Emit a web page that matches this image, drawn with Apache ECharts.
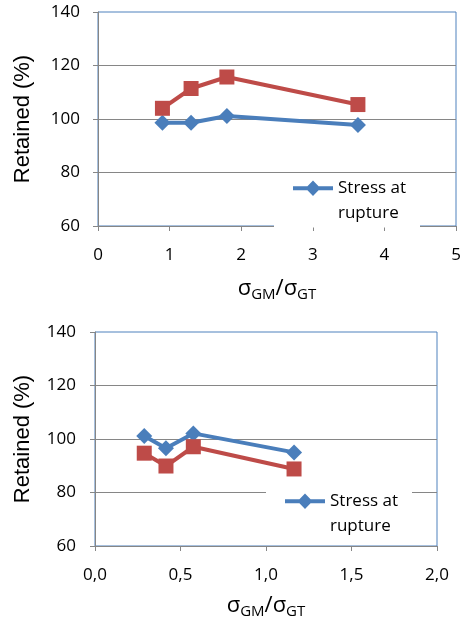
<!DOCTYPE html>
<html>
<head>
<meta charset="utf-8">
<script src="https://cdn.jsdelivr.net/npm/echarts@6/dist/echarts.min.js"></script>
<style>
  html, body { margin: 0; padding: 0; background: #fff; }
  #chart { width: 464px; height: 623px; }
</style>
</head>
<body>
<div id="chart"></div>
<script>
// Upper panel: ratio sigma_GM / sigma_GT against retained property (%)
const ratioTop = [0.9, 1.3, 1.8, 3.63];
const stressTop = [98.6, 98.6, 101.1, 97.8];
const strainTop = [104.0, 111.4, 115.7, 105.4];

// Lower panel
const ratioBottom = [0.288, 0.415, 0.575, 1.164];
const stressBottom = [101.1, 96.5, 102.1, 95.0];
const strainBottom = [94.7, 89.9, 97.1, 88.8];

const yTicks = [60, 80, 100, 120, 140];
const xTicksTop = [0, 1, 2, 3, 4, 5];
const xTicksBottom = [0, 0.5, 1.0, 1.5, 2.0];

const STRESS_NAME = 'Stress at rupture';
const STRAIN_NAME = 'Strain at rupture';

const BLUE = '#4A7EBB';
const RED = '#BE4B48';
const GRAY = '#868686';
const TICK_FONT = '"Open Sans", "Liberation Sans", sans-serif';
const NAME_FONT = '"Liberation Sans", Arial, sans-serif';

function pairs(xs, ys) { return xs.map((x, i) => [x, ys[i]]); }

// legend icon: line sample with a diamond, sitting at the first text line
const legendIcon = 'path://M0 0 L0.01 0 L0.01 0.01 Z M40 50 L39.99 50 L39.99 49.99 Z ' +
  'M0 10.75 L40 10.75 L40 14.75 L0 14.75 Z M20 5 L27.5 12.75 L20 20.5 L12.5 12.75 Z';

const xName = '{s|σ}{sub|GM}{s|/σ}{sub|GT}';
const xNameRich = {
  s: { fontFamily: TICK_FONT, fontSize: 22, color: '#000', verticalAlign: 'middle' },
  sub: { fontFamily: TICK_FONT, fontSize: 15, color: '#000', verticalAlign: 'middle', padding: [11, 0, 0, 0] }
};

function yAxis(gridIndex, nameGap, labelMargin) {
  return {
    type: 'value', gridIndex, min: yTicks[0], max: yTicks[yTicks.length - 1], interval: 20,
    name: 'Retained (%)', nameLocation: 'middle', nameGap,
    nameTextStyle: { fontFamily: NAME_FONT, fontSize: 22, color: '#000' },
    axisLine: { show: true, lineStyle: { color: GRAY, width: 1 } },
    axisTick: { show: true, length: 5, lineStyle: { color: GRAY } },
    axisLabel: { fontFamily: TICK_FONT, fontSize: 17, color: '#000', margin: labelMargin },
    splitLine: { show: true, showMaxLine: false, lineStyle: { color: GRAY, width: 1 } }
  };
}

function xAxis(gridIndex, ticks, interval, formatter, nameGap) {
  return {
    type: 'value', gridIndex, min: ticks[0], max: ticks[ticks.length - 1], interval,
    name: xName, nameLocation: 'middle', nameGap,
    nameTextStyle: { rich: xNameRich },
    axisLine: { show: true, onZero: false, lineStyle: { color: GRAY, width: 1 } },
    axisTick: { show: true, length: 5, lineStyle: { color: GRAY } },
    axisLabel: { fontFamily: TICK_FONT, fontSize: 17, color: '#000', margin: 21,
                 showMinLabel: true, showMaxLabel: true, formatter },
    splitLine: { show: false }
  };
}

function lineSeries(name, xi, data, color, symbol, size) {
  return {
    name, type: 'line', xAxisIndex: xi, yAxisIndex: xi, data,
    symbol, symbolSize: size,
    lineStyle: { color, width: 4 },
    itemStyle: { color, borderWidth: 0 },
    emphasis: { disabled: true },
    animation: false
  };
}

function legend(left, top) {
  return {
    data: [STRESS_NAME], left, top, orient: 'vertical',
    backgroundColor: '#fff', padding: [2, 14, 2, 19],
    icon: legendIcon, itemWidth: 40, itemHeight: 50,
    itemStyle: { borderWidth: 0 },
    formatter: () => 'Stress at\nrupture',
    textStyle: { fontFamily: TICK_FONT, fontSize: 17, color: '#000', lineHeight: 25 },
    selectedMode: false
  };
}

const chart = echarts.init(document.getElementById('chart'), null, { renderer: 'canvas' });
chart.setOption({
  backgroundColor: '#fff',
  animation: false,
  grid: [
    { left: 98, top: 12, width: 358, height: 214, show: true, borderColor: '#4F81BD', borderWidth: 1, backgroundColor: 'transparent' },
    { left: 95, top: 332, width: 342, height: 214, show: true, borderColor: '#4F81BD', borderWidth: 1, backgroundColor: 'transparent' }
  ],
  xAxis: [
    xAxis(0, xTicksTop, 1, v => String(v), 50),
    xAxis(1, xTicksBottom, 0.5, v => v.toFixed(1).replace('.', ','), 47)
  ],
  yAxis: [yAxis(0, 64, 18), yAxis(1, 61, 19)],
  legend: [legend(274, 173.5), legend(266, 486.5)],
  series: [
    lineSeries(STRESS_NAME, 0, pairs(ratioTop, stressTop), BLUE, 'diamond', 16),
    lineSeries(STRAIN_NAME, 0, pairs(ratioTop, strainTop), RED, 'rect', 15),
    lineSeries(STRESS_NAME, 1, pairs(ratioBottom, stressBottom), BLUE, 'diamond', 16),
    lineSeries(STRAIN_NAME, 1, pairs(ratioBottom, strainBottom), RED, 'rect', 15)
  ]
});
</script>
</body>
</html>
